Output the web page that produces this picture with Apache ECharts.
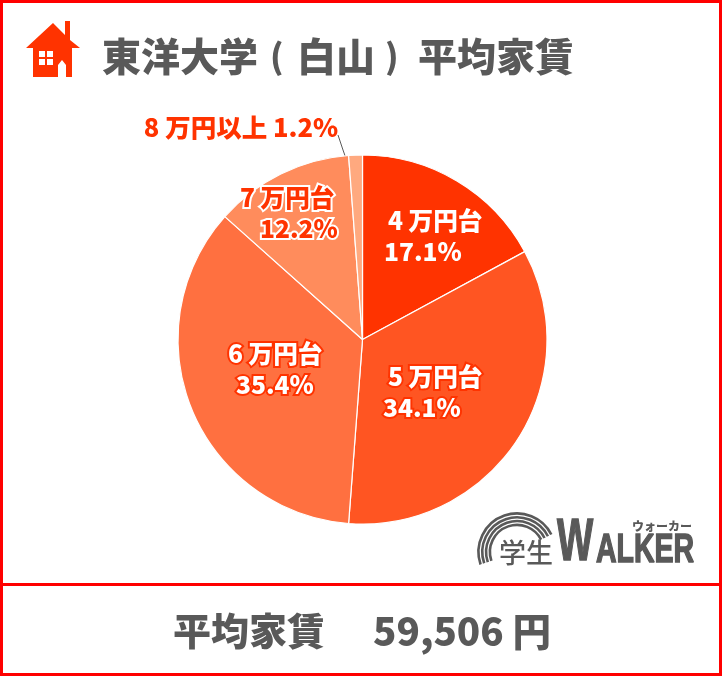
<!DOCTYPE html>
<html><head><meta charset="utf-8">
<style>html,body{margin:0;padding:0;background:#fff}#c{width:722px;height:676px}</style>
<script src="https://cdn.jsdelivr.net/npm/echarts@6/dist/echarts.min.js"></script>
</head><body><div id="c"></div>
<script>
const categories = ['4 万円台','5 万円台','6 万円台','7 万円台','8 万円以上'];
const shares = [17.1,34.1,35.4,12.2,1.2];
const colors = ['#ff3300','#ff5522','#ff7040','#ff8c5c','#ffa97f'];
const titleName = '東洋大学';
const titleOpen = '(';
const titleArea = '白山';
const titleClose = ')';
const titleTail = '平均家賃';
const averageLabel = '平均家賃';
const averageValue = '59,506 円';
const labelSpots = [[384,236],[383,392],[228,369],[240,213],[241,127]];
const lineIndents = [[4,0],[5,0],[0,8],[0,20]];

const FONT = '"Noto Sans CJK JP"';
const GRAY = '#595959', RED = '#ff0000', ORANGE = '#ff3300';
const chart = echarts.init(document.getElementById('c'), null, {renderer:'canvas'});
const rect = (x,y,w,h,fill)=>({type:'rect',silent:true,shape:{x,y,width:w,height:h},style:{fill}});
const bands = [38.5,34.7,30.9,27.1].map(r=>({type:'arc',silent:true,
  shape:{cx:517,cy:552,r,startAngle:161*Math.PI/180,endAngle:333*Math.PI/180,clockwise:true},
  style:{stroke:GRAY,lineWidth:2.6,fill:'none'}}));
const txt=(x,y,text,size,extra={},scaleX=1,fill=GRAY)=>({type:'text',silent:true,x,y,scaleX,
  style:Object.assign({text,fill,font:`bold ${size}px ${FONT}`,textVerticalAlign:'middle',textAlign:'left'},extra)});

const labelFor = (i)=>{
  const base = {fontFamily:FONT,fontWeight:900,fontSize:24.6,lineHeight:31,
    color:i===3?ORANGE:'#fff',
    textBorderColor:i===3?'#fff':(i===0?'transparent':ORANGE),
    textBorderWidth:i===0?0:4};
  if(i===4){
    return {show:true,position:'outside',formatter:`${categories[i]} ${shares[i]}%`,
      fontFamily:FONT,fontWeight:900,fontSize:25.5,color:ORANGE,align:'center',verticalAlign:'middle'};
  }
  return Object.assign({},base,{
    show:true,position:'inside',align:'left',verticalAlign:'middle',
    formatter:`{a|${categories[i]}}\n{b|${shares[i]}%}`,
    rich:{
      a:Object.assign({},base,{padding:[0,0,0,lineIndents[i][0]]}),
      b:Object.assign({},base,{padding:[0,0,0,lineIndents[i][1]]})
    }
  });
};

chart.setOption({
  animation:false,
  backgroundColor:'#fff',
  series:[{
    type:'pie',
    center:[362.5,339.5],radius:[0,184.5],
    startAngle:90,clockwise:true,
    silent:true,
    itemStyle:{borderColor:'#fff',borderWidth:1.2},
    labelLine:{show:false},
    data:categories.map((name,i)=>({
      name,value:shares[i],
      itemStyle:{color:colors[i]},
      label:labelFor(i),
      labelLine:i===4?{show:true,smooth:false,lineStyle:{color:GRAY,width:1}}:{show:false}
    })),
    labelLayout:(p)=>{
      const i=p.dataIndex;
      const o={x:labelSpots[i][0],y:labelSpots[i][1],align:i===4?'center':'left',verticalAlign:'middle',hideOverlap:false};
      if(i===4) o.labelLinePoints=[[338,135],[343,150],[349,167]];
      return o;
    }
  }],
  graphic:[
    rect(0,0,722,3,RED),rect(0,673,722,3,RED),rect(0,0,3,676,RED),rect(719,0,3,676,RED),rect(0,583,722,3,RED),
    {type:'polygon',silent:true,shape:{points:[[53,23],[65,35],[65,21],[70,21],[70,40],[80,48],[72,48],[72,77],[66,77],[66,65],[62,60],[58,65],[58,77],[33,77],[33,48],[26,48]]},style:{fill:ORANGE}},
    rect(39,51,6,6,'#fff'),rect(47,51,6,6,'#fff'),rect(39,59,6,6,'#fff'),rect(47,59,6,6,'#fff'),
    txt(102,56,titleName,39,{font:`900 39px ${FONT}`}),
    txt(270,56,titleOpen,34,{font:`900 34px ${FONT}`}),
    txt(297,56,titleArea,39,{font:`900 39px ${FONT}`}),
    txt(385,56,titleClose,34,{font:`900 34px ${FONT}`}),
    txt(418,56,titleTail,39,{font:`900 39px ${FONT}`}),
    txt(173,631,averageLabel,38,{font:`900 38px ${FONT}`}),
    txt(373,631,averageValue,38.5,{font:`900 38.5px ${FONT}`}),
    ...bands,
    rect(470,565,90,16,'#fff'),
    {type:'circle',silent:true,shape:{cx:517,cy:552,r:25},style:{fill:'#fff'}},
    txt(499,553,'学生',27,{font:`500 27px ${FONT}`}),
    txt(557,543,'W',60,{font:'bold 60px "Liberation Sans"',stroke:GRAY,lineWidth:1.5},0.64),
    txt(596,551,'ALKER',41,{font:'bold 41px "Liberation Sans"',stroke:GRAY,lineWidth:1.5},0.695),
    txt(632,526,'ウォーカー',12,{font:`900 12px ${FONT}`})
  ]
});
</script></body></html>
